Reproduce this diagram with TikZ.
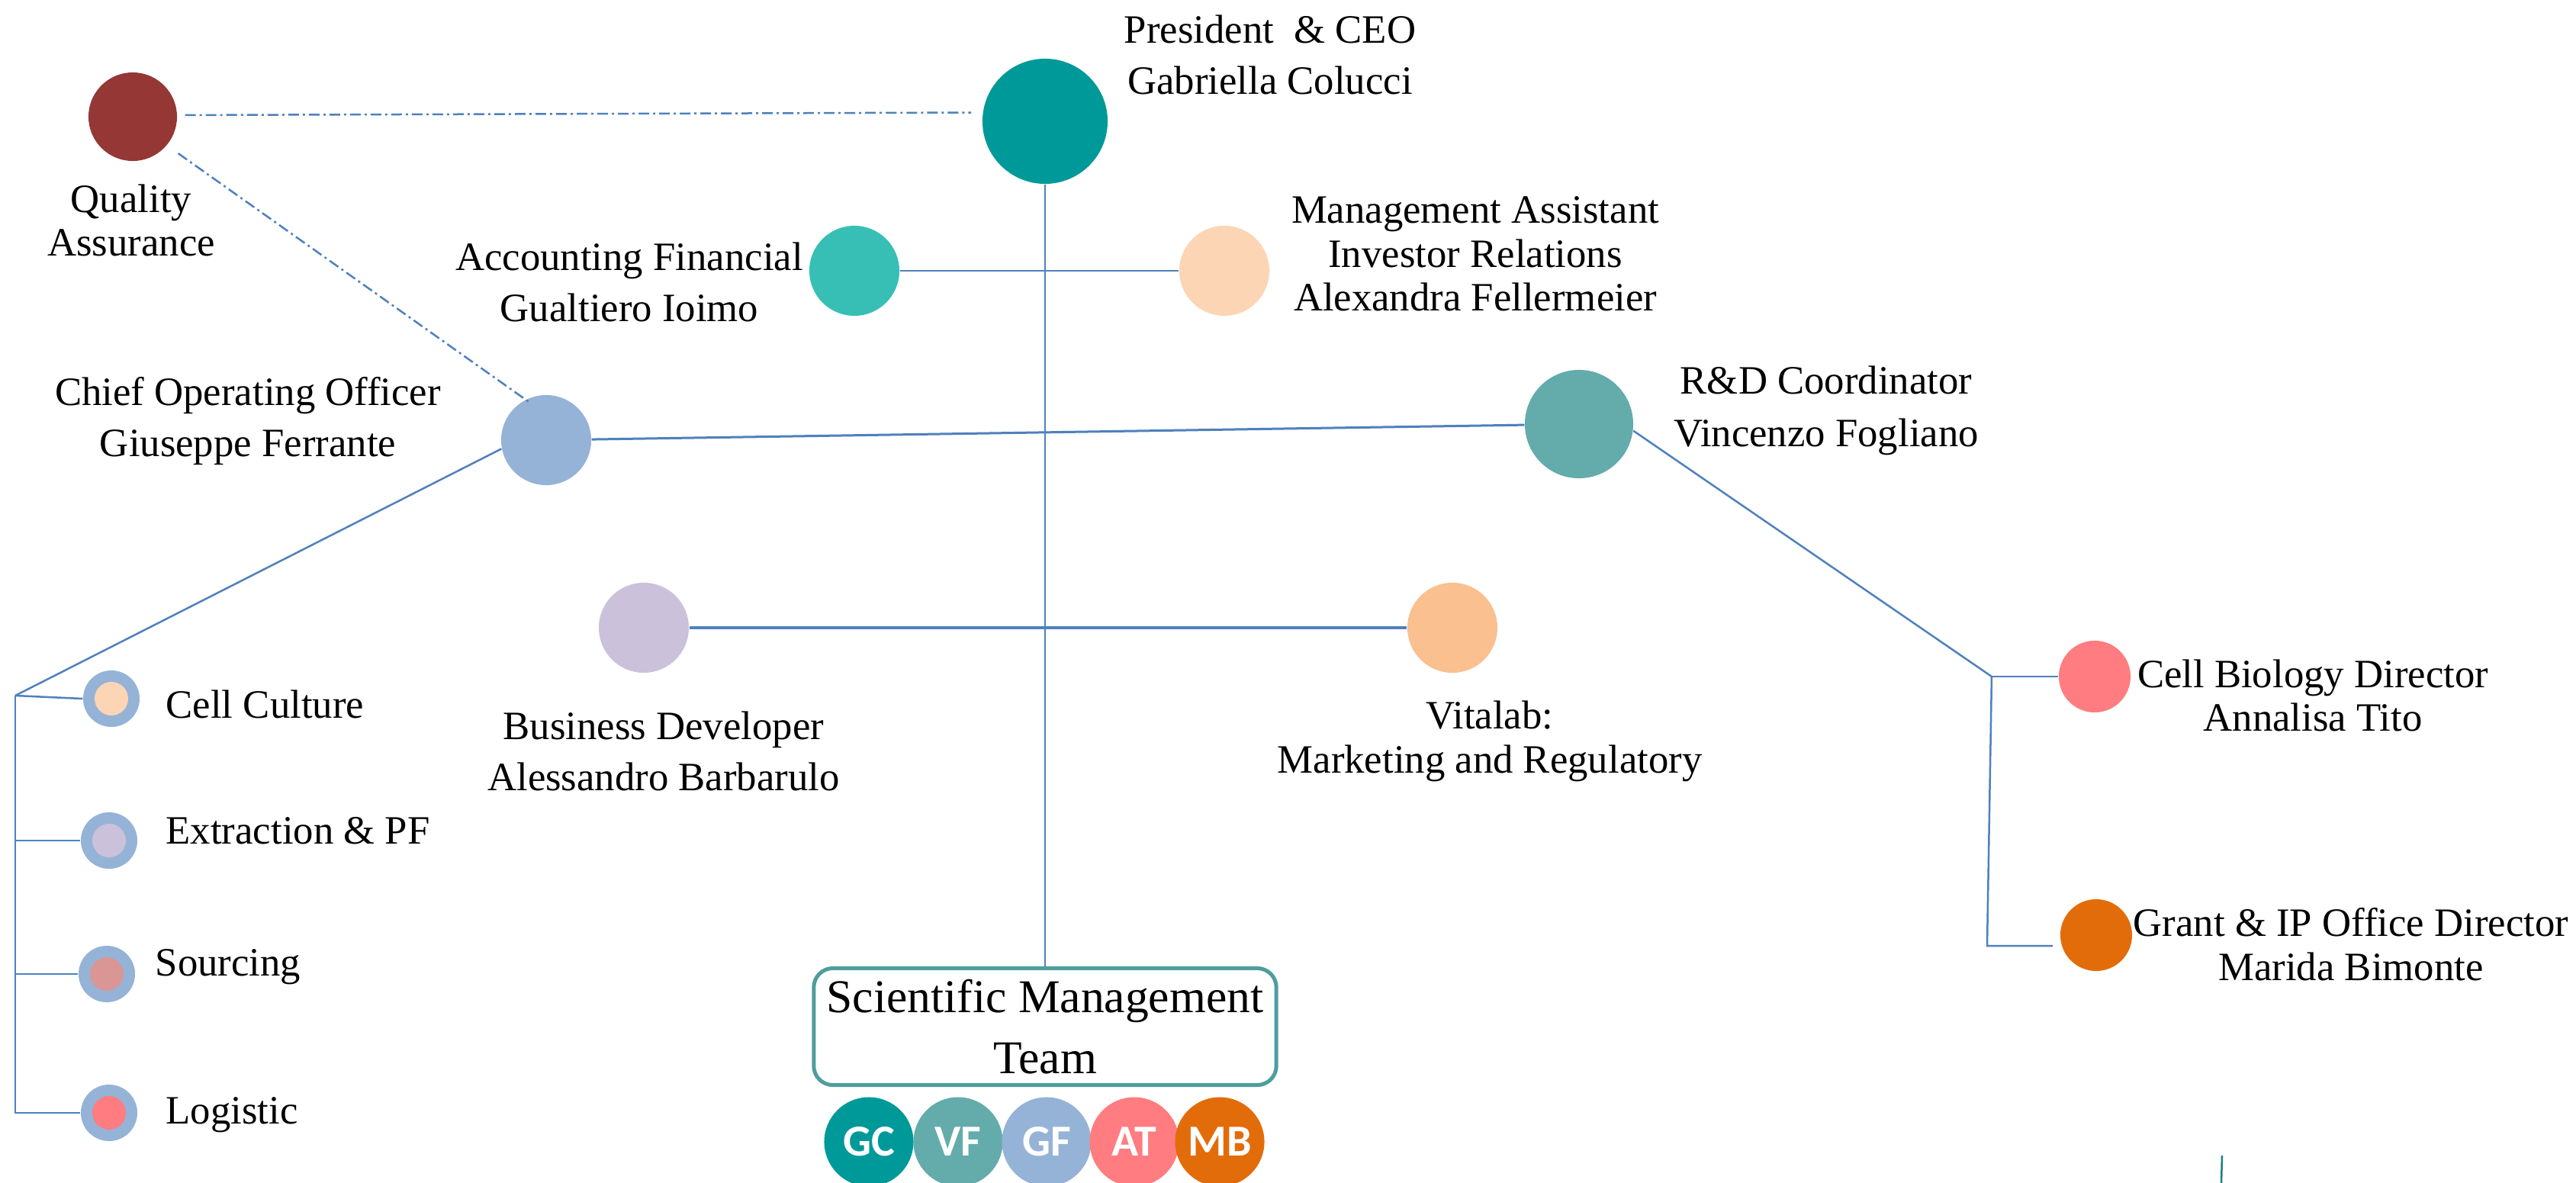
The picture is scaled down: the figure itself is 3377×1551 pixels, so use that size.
\documentclass[tikz,border=0pt]{standalone}
\usepackage{fontspec}
\setmainfont{Liberation Serif}
\newfontfamily\initfont{Carlito}
\usetikzlibrary{calc}

\definecolor{qac}{HTML}{953735}
\definecolor{tealA}{HTML}{009999}
\definecolor{accc}{HTML}{38BFB5}
\definecolor{peach}{HTML}{FCD5B5}
\definecolor{steel}{HTML}{95B3D7}
\definecolor{rdc}{HTML}{63ACAB}
\definecolor{lav}{HTML}{CCC1DA}
\definecolor{apricot}{HTML}{FAC090}
\definecolor{salmon}{HTML}{FF7C80}
\definecolor{orng}{HTML}{E36C0A}
\definecolor{rose}{HTML}{D99694}
\definecolor{linec}{HTML}{4F81BD}
\definecolor{boxc}{HTML}{4F9D9D}
\definecolor{artc}{HTML}{1F7F80}

\begin{document}
\begin{tikzpicture}[x=0.01cm,y=-0.01cm,
  disc/.style={circle,inner sep=0pt,draw=none,minimum size=#1},
  lbl/.style={align=center,inner sep=0pt,font=\fontsize{15}{19}\selectfont},
  lbltight/.style={align=center,inner sep=0pt,font=\fontsize{15}{16.4}\selectfont},
  small/.style={anchor=base west,inner sep=0pt,font=\fontsize{15}{19}\selectfont},
  conn/.style={draw=linec,line width=0.025cm},
  qaconn/.style={draw=linec,line width=0.025cm,dash pattern=on 0.14cm off 0.05cm on 0.03cm off 0.05cm},
  initial/.style={circle,inner sep=0pt,draw=none,minimum size=1.17cm,text=white,font=\initfont\bfseries\fontsize{16.5}{16.5}\selectfont}]

\fill[white] (0,0) rectangle (3377,1551);
\useasboundingbox (0,0) rectangle (3377,1551);

% main circles
\node[disc=1.16cm,fill=qac] (qa) at (174,153) {};
\node[lbltight] (qat) at (172,289) {Quality\\Assurance};
\node[disc=1.64cm,fill=tealA] (pres) at (1370,159) {};
\node[lbl] (prest) at (1665,72) {President\ \ \& CEO\\Gabriella Colucci};
\node[disc=1.18cm,fill=accc] (acc) at (1120,355) {};
\node[lbl] (acct) at (825,370) {Accounting Financial\\Gualtiero Ioimo};
\node[disc=1.18cm,fill=peach] (ma) at (1605,355) {};
\node[lbltight] (mat) at (1934,333) {Management Assistant\\Investor Relations\\Alexandra Fellermeier};
\node[disc=1.18cm,fill=steel] (coo) at (716,577) {};
\node[lbl] (coot) at (325,552) {Chief Operating Officer\\Giuseppe Ferrante};
\node[disc=1.42cm,fill=rdc] (rd) at (2070,556) {};
\node[lbl,font=\fontsize{15}{19.6}\selectfont] (rdt) at (2394,538) {R\&D Coordinator\\Vincenzo Fogliano};
\node[disc=1.18cm,fill=lav] (bd) at (844,823) {};
\node[lbl] (bdt) at (870,985) {Business Developer\\Alessandro Barbarulo};
\node[disc=1.18cm,fill=apricot] (vit) at (1904,823) {};
\node[lbltight] (vitt) at (1953,972) {Vitalab:\\Marketing and Regulatory};
\node[disc=0.94cm,fill=salmon] (cb) at (2746,887) {};
\node[lbltight] (cbt) at (3032,912) {Cell Biology Director\\Annalisa Tito};
\node[disc=0.94cm,fill=orng] (gr) at (2748,1226) {};
\node[lbltight] (grt) at (3082,1238) {Grant \& IP Office Director\\Marida Bimonte};

% small unit circles
\node[disc=0.74cm,fill=steel] (cc) at (146,916) {};
\node[disc=0.44cm,fill=peach] (cci) at (cc) {};
\node[small] (cct) at (217,941) {Cell Culture};
\node[disc=0.74cm,fill=steel] (ex) at (143,1102) {};
\node[disc=0.44cm,fill=lav] (exi) at (ex) {};
\node[small] (ext) at (217,1106) {Extraction \& PF};
\node[disc=0.74cm,fill=steel] (so) at (140,1277) {};
\node[disc=0.44cm,fill=rose] (soi) at (so) {};
\node[small] (sot) at (203,1279) {Sourcing};
\node[disc=0.74cm,fill=steel] (lo) at (143,1459) {};
\node[disc=0.44cm,fill=salmon] (loi) at (lo) {};
\node[small] (lot) at (217,1473) {Logistic};

% scientific management team
\node[draw=boxc,line width=0.05cm,rounded corners=0.25cm,minimum width=6.06cm,minimum height=1.53cm,inner sep=0pt,align=center,font=\fontsize{17.5}{22.8}\selectfont] (smt) at (1370,1346) {Scientific Management\\Team};
\node[initial,fill=tealA] (gc) at (1139,1497) {GC};
\node[initial,fill=rdc] (vf) at (1256,1497) {VF};
\node[initial,fill=steel] (gf) at (1372,1497) {GF};
\node[initial,fill=salmon] (at) at (1487,1497) {AT};
\node[initial,fill=orng] (mb) at (1599,1497) {MB};

% connectors
\draw[qaconn,shorten <=0.1cm,shorten >=0.15cm] (qa.2) -- (pres.172);
\draw[qaconn,shorten <=0.18cm,shorten >=-0.08cm] (qa.-40) -- (coo.117);
\draw[conn] (pres) -- (smt);
\draw[conn] (acc) -- (ma);
\draw[conn,line width=0.03cm] (coo) -- (rd);
\draw[conn,line width=0.035cm] (bd) -- (vit);

\coordinate (lt) at (20,912);
\coordinate (lb) at (20,1459);
\draw[conn] (coo.191) -- (lt);
\draw[conn] (lt) -- (lb) -- (lo.west);
\draw[conn] (lt) -- (cc.west);
\draw[conn] (lt |- ex.west) -- (ex.west);
\draw[conn] (lt |- so.west) -- (so.west);

\coordinate (rt) at (2611,887);
\coordinate (rb) at (2605,1240);
\coordinate (grend) at (2691,1240);
\draw[conn] (rd.-7) -- (rt) -- (rb) -- (grend);
\draw[conn] (rt) -- (cb.west);

% fragment at lower right
\draw[artc,line width=0.025cm] (2913,1515) -- (2912,1551);
\end{tikzpicture}
\end{document}
